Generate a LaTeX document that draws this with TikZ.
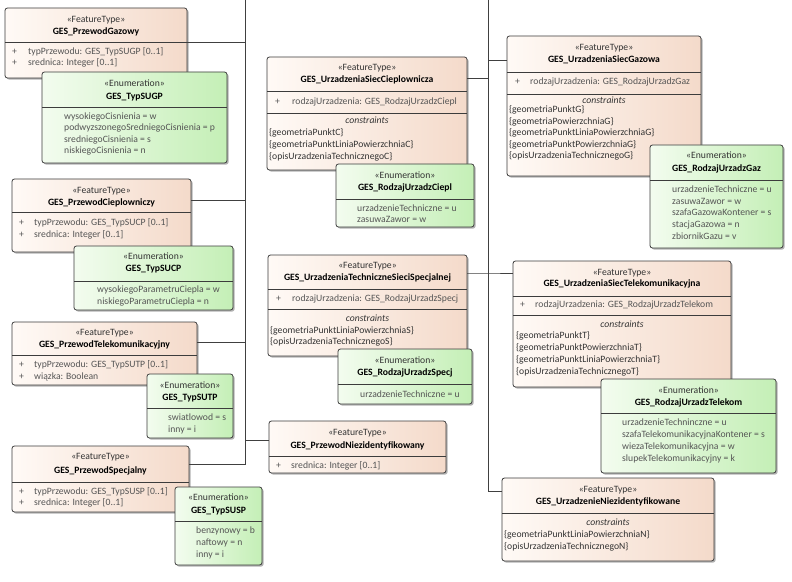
\documentclass[tikz,border=0pt]{standalone}
\usepackage{fontspec}
\setmainfont{Carlito}
\usetikzlibrary{shadows,fit}
\definecolor{ftL}{HTML}{FFFAF6}
\definecolor{ftR}{HTML}{F4DACA}
\definecolor{enL}{HTML}{F3FCEF}
\definecolor{enR}{HTML}{C4EFB6}
\definecolor{bord}{HTML}{3C3C3C}
\definecolor{txtA}{HTML}{555555}
\definecolor{txtC}{HTML}{333333}
\definecolor{lineC}{HTML}{404040}
\newcommand\dfs{\fontsize{9.7}{11}\selectfont}
\tikzset{
 x=1bp, y=-1bp,
 boxbase/.style={draw=bord, line width=0.8bp, rounded corners=2.5bp, inner sep=0pt,
   drop shadow={shadow xshift=1.6bp, shadow yshift=-1.6bp, opacity=0.3, fill=black}},
 ftbox/.style={boxbase, left color=ftL, right color=ftR},
 enbox/.style={boxbase, left color=enL, right color=enR},
 divl/.style={draw=bord, line width=0.7bp},
 conn/.style={draw=lineC, line width=0.8bp},
 tx/.style={inner sep=0pt, font=\dfs, text height=6.5bp, text depth=2bp},
 sttx/.style={tx, text=txtC},
 nmtx/.style={tx, font=\dfs\bfseries, text=black},
 attx/.style={tx, anchor=west, text=txtA},
 cntx/.style={tx, anchor=west, text=txtC},
 cihd/.style={tx, font=\dfs\itshape, text=txtC},
}
\begin{document}
\begin{tikzpicture}
\useasboundingbox (0,0) rectangle (792,582);
\fill[white] (0,0) rectangle (792,582);

% ---------- GES_PrzewodGazowy
\node[ftbox, fit={(5,8) (187,78)}] (gaz) {};
\node[sttx] (gaz-s) at (96,20) {«FeatureType»};
\node[nmtx] (gaz-n) at (96,32) {GES\_PrzewodGazowy};
\draw[divl] (5,42) -- (187,42);
\node[attx] (gaz-p1) at (12,52) {+};
\node[attx] (gaz-a1) at (28,52) {typPrzewodu: GES\_TypSUGP [0..1]};
\node[attx] (gaz-p2) at (12,63) {+};
\node[attx] (gaz-a2) at (28,63) {srednica: Integer [0..1]};
% ---------- GES_TypSUGP
\node[enbox, fit={(42,72) (227,163)}] (sugp) {};
\node[sttx] (sugp-s) at (134.5,84) {«Enumeration»};
\node[nmtx] (sugp-n) at (134.5,97) {GES\_TypSUGP};
\draw[divl] (42,107) -- (227,107);
\node[attx] (sugp-v1) at (64,117) {wysokiegoCisnienia = w};
\node[attx] (sugp-v2) at (64,128.5) {podwyzszonegoSredniegoCisnienia = p};
\node[attx] (sugp-v3) at (64,140) {sredniegoCisnienia = s};
\node[attx] (sugp-v4) at (64,151.5) {niskiegoCisnienia = n};

% ---------- GES_PrzewodCieplowniczy
\node[ftbox, fit={(12,179) (191,252)}] (ciepl) {};
\node[sttx] (ciepl-s) at (101.5,191) {«FeatureType»};
\node[nmtx] (ciepl-n) at (101.5,203) {GES\_PrzewodCieplowniczy};
\draw[divl] (12,212) -- (191,212);
\node[attx] (ciepl-p1) at (19,223) {+};
\node[attx] (ciepl-a1) at (34,223) {typPrzewodu: GES\_TypSUCP [0..1]};
\node[attx] (ciepl-p2) at (19,235) {+};
\node[attx] (ciepl-a2) at (34,235) {srednica: Integer [0..1]};
% ---------- GES_TypSUCP
\node[enbox, fit={(74,246) (233,310)}] (sucp) {};
\node[sttx] (sucp-s) at (153.5,257) {«Enumeration»};
\node[nmtx] (sucp-n) at (153.5,269) {GES\_TypSUCP};
\draw[divl] (74,281) -- (233,281);
\node[attx] (sucp-v1) at (97,290.5) {wysokiegoParametruCiepla = w};
\node[attx] (sucp-v2) at (97,302) {niskiegoParametruCiepla = n};

% ---------- GES_PrzewodTelekomunikacyjny
\node[ftbox, fit={(12,322) (197,385)}] (tel) {};
\node[sttx] (tel-s) at (104.5,333) {«FeatureType»};
\node[nmtx] (tel-n) at (104.5,345) {GES\_PrzewodTelekomunikacyjny};
\draw[divl] (12,355) -- (197,355);
\node[attx] (tel-p1) at (19,365) {+};
\node[attx] (tel-a1) at (34,365) {typPrzewodu: GES\_TypSUTP [0..1]};
\node[attx] (tel-p2) at (19,377) {+};
\node[attx] (tel-a2) at (34,377) {wiązka: Boolean};
% ---------- GES_TypSUTP
\node[enbox, fit={(147,374) (233,438)}] (sutp) {};
\node[sttx] (sutp-s) at (190,386) {«Enumeration»};
\node[nmtx] (sutp-n) at (190,398) {GES\_TypSUTP};
\draw[divl] (147,408) -- (233,408);
\node[attx] (sutp-v1) at (168,418) {swiatlowod = s};
\node[attx] (sutp-v2) at (168,430) {inny = i};

% ---------- GES_PrzewodSpecjalny
\node[ftbox, fit={(12,446) (189,512)}] (spec) {};
\node[sttx] (spec-s) at (100.5,457) {«FeatureType»};
\node[nmtx] (spec-n) at (100.5,471) {GES\_PrzewodSpecjalny};
\draw[divl] (12,482) -- (189,482);
\node[attx] (spec-p1) at (19,492) {+};
\node[attx] (spec-a1) at (34,492) {typPrzewodu: GES\_TypSUSP [0..1]};
\node[attx] (spec-p2) at (19,503) {+};
\node[attx] (spec-a2) at (34,503) {srednica: Integer [0..1]};
% ---------- GES_TypSUSP
\node[enbox, fit={(175,487) (262,565)}] (susp) {};
\node[sttx] (susp-s) at (218.5,498) {«Enumeration»};
\node[nmtx] (susp-n) at (218.5,511) {GES\_TypSUSP};
\draw[divl] (175,521) -- (262,521);
\node[attx] (susp-v1) at (196,531) {benzynowy = b};
\node[attx] (susp-v2) at (196,543) {naftowy = n};
\node[attx] (susp-v3) at (196,555) {inny = i};

% ---------- GES_PrzewodNiezidentyfikowany
\node[ftbox, fit={(269,421) (446,473)}] (niez) {};
\node[sttx] (niez-s) at (357.5,433) {«FeatureType»};
\node[nmtx] (niez-n) at (357.5,446) {GES\_PrzewodNiezidentyfikowany};
\draw[divl] (269,456) -- (446,456);
\node[attx] (niez-p1) at (276,466) {+};
\node[attx] (niez-a1) at (291,466) {srednica: Integer [0..1]};

% ---------- GES_UrzadzeniaSiecCieplownicza
\node[ftbox, fit={(267,57) (467,170)}] (uciepl) {};
\node[sttx] (uciepl-s) at (367,68) {«FeatureType»};
\node[nmtx] (uciepl-n) at (367,80) {GES\_UrzadzeniaSiecCieplownicza};
\draw[divl] (267,91) -- (467,91);
\node[attx] (uciepl-p1) at (275,102) {+};
\node[attx] (uciepl-a1) at (292,102) {rodzajUrzadzenia: GES\_RodzajUrzadzCiepl};
\draw[divl] (267,113) -- (467,113);
\node[cihd] (uciepl-c) at (367,121) {constraints};
\node[cntx] (uciepl-c1) at (269,133) {\{geometriaPunktC\}};
\node[cntx] (uciepl-c2) at (269,145) {\{geometriaPunktLiniaPowierzchniaC\}};
\node[cntx] (uciepl-c3) at (269,157) {\{opisUrzadzeniaTechnicznegoC\}};
% ---------- GES_RodzajUrzadzCiepl
\node[enbox, fit={(336,164) (474,227)}] (rciepl) {};
\node[sttx] (rciepl-s) at (405,176) {«Enumeration»};
\node[nmtx] (rciepl-n) at (405,188) {GES\_RodzajUrzadzCiepl};
\draw[divl] (336,199) -- (474,199);
\node[attx] (rciepl-v1) at (357,209) {urzadzenieTechniczne = u};
\node[attx] (rciepl-v2) at (357,220) {zasuwaZawor = w};

% ---------- GES_UrzadzeniaSiecGazowa
\node[ftbox, fit={(507,36) (701,176)}] (ugaz) {};
\node[sttx] (ugaz-s) at (604,48) {«FeatureType»};
\node[nmtx] (ugaz-n) at (604,60) {GES\_UrzadzeniaSiecGazowa};
\draw[divl] (507,72) -- (701,72);
\node[attx] (ugaz-p1) at (515,82.5) {+};
\node[attx] (ugaz-a1) at (530,82.5) {rodzajUrzadzenia: GES\_RodzajUrzadzGaz};
\draw[divl] (507,94) -- (701,94);
\node[cihd] (ugaz-c) at (604,101) {constraints};
\node[cntx] (ugaz-c1) at (509,110.5) {\{geometriaPunktG\}};
\node[cntx] (ugaz-c2) at (509,122) {\{geometriaPowierzchniaG\}};
\node[cntx] (ugaz-c3) at (509,133.5) {\{geometriaPunktLiniaPowierzchniaG\}};
\node[cntx] (ugaz-c4) at (509,145) {\{geometriaPunktPowierzchniaG\}};
\node[cntx] (ugaz-c5) at (509,156.5) {\{opisUrzadzeniaTechnicznegoG\}};
% ---------- GES_RodzajUrzadzGaz
\node[enbox, fit={(650,145) (783,248)}] (rgaz) {};
\node[sttx] (rgaz-s) at (716.5,156) {«Enumeration»};
\node[nmtx] (rgaz-n) at (716.5,169) {GES\_RodzajUrzadzGaz};
\draw[divl] (650,180) -- (783,180);
\node[attx] (rgaz-v1) at (672,190) {urzadzenieTechniczne = u};
\node[attx] (rgaz-v2) at (672,202) {zasuwaZawor = w};
\node[attx] (rgaz-v3) at (672,213.5) {szafaGazowaKontener = s};
\node[attx] (rgaz-v4) at (672,225) {stacjaGazowa = n};
\node[attx] (rgaz-v5) at (672,237) {zbiornikGazu = v};

% ---------- GES_UrzadzeniaTechniczneSieciSpecjalnej
\node[ftbox, fit={(268,255) (467,356)}] (uspec) {};
\node[sttx] (uspec-s) at (367.5,266) {«FeatureType»};
\node[nmtx] (uspec-n) at (367.5,278) {GES\_UrzadzeniaTechniczneSieciSpecjalnej};
\draw[divl] (268,289) -- (467,289);
\node[attx] (uspec-p1) at (276,299) {+};
\node[attx] (uspec-a1) at (292,299) {rodzajUrzadzenia: GES\_RodzajUrzadzSpecj};
\draw[divl] (268,309) -- (467,309);
\node[cihd] (uspec-c) at (367.5,319) {constraints};
\node[cntx] (uspec-c1) at (270,331) {\{geometriaPunktLiniaPowierzchniaS\}};
\node[cntx] (uspec-c2) at (270,342) {\{opisUrzadzeniaTechnicznegoS\}};
% ---------- GES_RodzajUrzadzSpecj
\node[enbox, fit={(338,349) (472,404)}] (rspec) {};
\node[sttx] (rspec-s) at (405,361) {«Enumeration»};
\node[nmtx] (rspec-n) at (405,373) {GES\_RodzajUrzadzSpecj};
\draw[divl] (338,384) -- (472,384);
\node[attx] (rspec-v1) at (360,395) {urzadzenieTechniczne = u};

% ---------- GES_UrzadzeniaSiecTelekomunikacyjna
\node[ftbox, fit={(513,261) (731,387)}] (utel) {};
\node[sttx] (utel-s) at (622,273) {«FeatureType»};
\node[nmtx] (utel-n) at (622,284.5) {GES\_UrzadzeniaSiecTelekomunikacyjna};
\draw[divl] (513,296) -- (731,296);
\node[attx] (utel-p1) at (520,305.5) {+};
\node[attx] (utel-a1) at (535,305.5) {rodzajUrzadzenia: GES\_RodzajUrzadzTelekom};
\draw[divl] (513,315) -- (731,315);
\node[cihd] (utel-c) at (622,325) {constraints};
\node[cntx] (utel-c1) at (516,336) {\{geometriaPunktT\}};
\node[cntx] (utel-c2) at (516,348) {\{geometriaPunktPowierzchniaT\}};
\node[cntx] (utel-c3) at (516,360) {\{geometriaPunktLiniaPowierzchniaT\}};
\node[cntx] (utel-c4) at (516,372) {\{opisUrzadzeniaTechnicznegoT\}};
% ---------- GES_RodzajUrzadzTelekom
\node[enbox, fit={(601,379) (776,473)}] (rtel) {};
\node[sttx] (rtel-s) at (688.5,391) {«Enumeration»};
\node[nmtx] (rtel-n) at (688.5,403) {GES\_RodzajUrzadzTelekom};
\draw[divl] (601,413) -- (776,413);
\node[attx] (rtel-v1) at (622,423.5) {urzadzenieTechninczne = u};
\node[attx] (rtel-v2) at (622,435.5) {szafaTelekomunikacyjnaKontener = s};
\node[attx] (rtel-v3) at (622,447.5) {wiezaTelekomunikacyjna = w};
\node[attx] (rtel-v4) at (622,459.5) {slupekTelekomunikacyjny = k};

% ---------- GES_UrzadzenieNiezidentyfikowane
\node[ftbox, fit={(502,478) (714,561)}] (uniez) {};
\node[sttx] (uniez-s) at (608,490) {«FeatureType»};
\node[nmtx] (uniez-n) at (608,502) {GES\_UrzadzenieNiezidentyfikowane};
\draw[divl] (502,513) -- (714,513);
\node[cihd] (uniez-c) at (608,523) {constraints};
\node[cntx] (uniez-c1) at (504,535) {\{geometriaPunktLiniaPowierzchniaN\}};
\node[cntx] (uniez-c2) at (504,547) {\{opisUrzadzeniaTechnicznegoN\}};

% ---------- connectors
\coordinate (tLtop) at (245,0);
\coordinate (tLbot) at (245,464);
\coordinate (jLgaz) at (245,42);
\coordinate (jLciepl) at (245,200);
\coordinate (jLtel) at (245,342);
\coordinate (jLniez) at (245,440);
\coordinate (tRtop) at (488,0);
\coordinate (tRbot) at (488,491);
\coordinate (jRgaz) at (488,60);
\coordinate (jRciepl) at (488,78);
\coordinate (jRsp) at (488,273);

\draw[conn] (tLtop) -- (tLbot) -- (spec.east |- tLbot);
\draw[conn] (jLgaz) -- (gaz.east |- jLgaz);
\draw[conn] (jLciepl) -- (ciepl.east |- jLciepl);
\draw[conn] (jLtel) -- (tel.east |- jLtel);
\draw[conn] (jLniez) -- (niez.west |- jLniez);
\draw[conn] (tRtop) -- (tRbot) -- (uniez.west |- tRbot);
\draw[conn] (jRgaz) -- (ugaz.west |- jRgaz);
\draw[conn] (jRciepl) -- (uciepl.east |- jRciepl);
\draw[conn] (uspec.east |- jRsp) -- (jRsp) -- (utel.west |- jRsp);
\end{tikzpicture}
\end{document}
